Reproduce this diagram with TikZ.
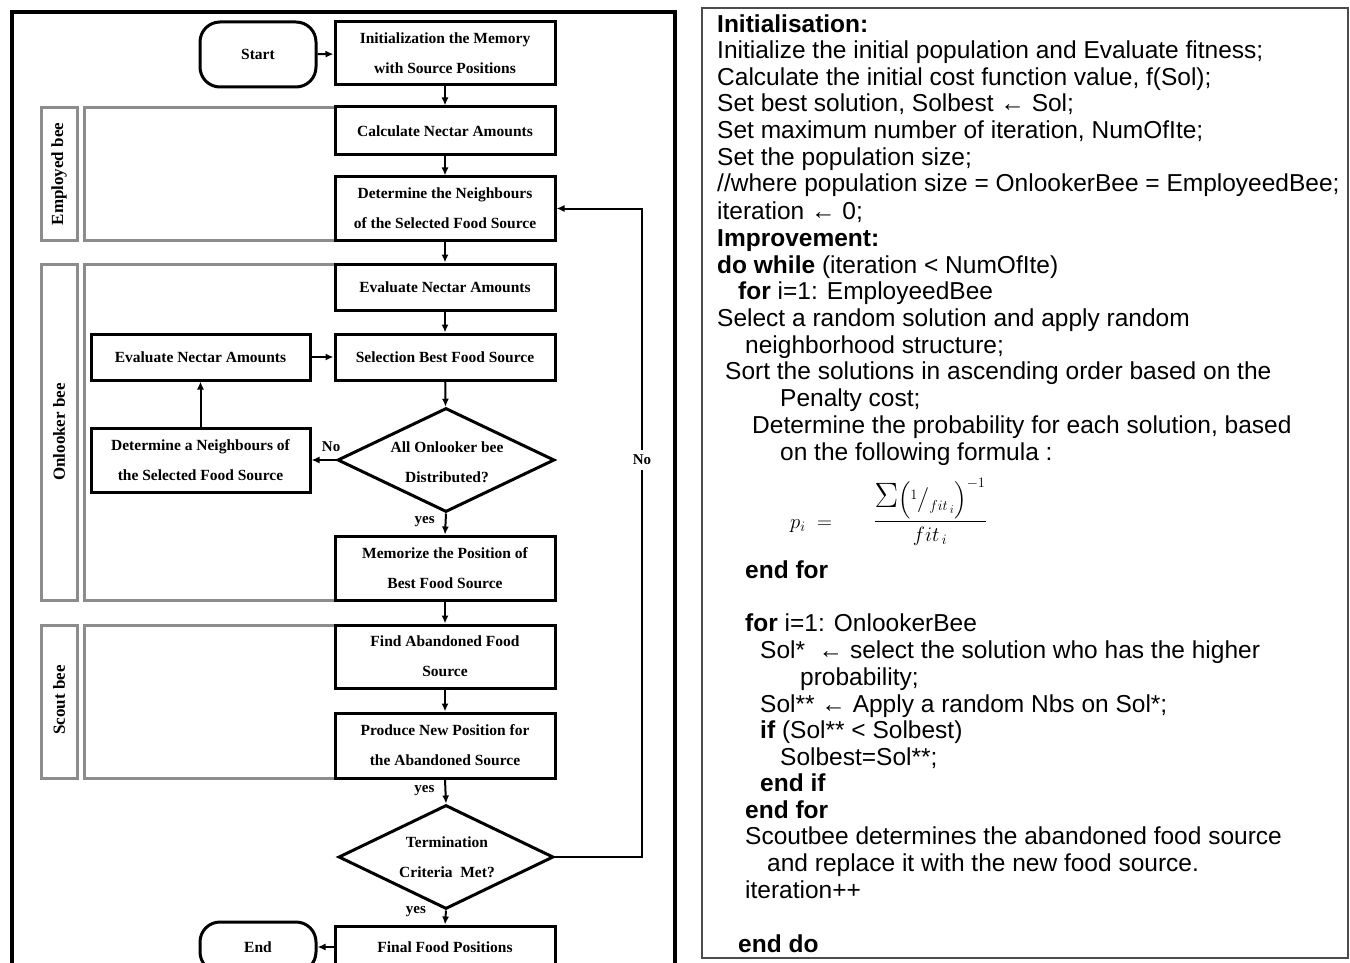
\documentclass[tikz,border=0pt]{standalone}
\usepackage{exscale}
\usepackage{fontspec}
\setmainfont{Liberation Sans}
\newfontfamily\serifb{Liberation Serif}
\usetikzlibrary{shapes.geometric,arrows.meta}
\begin{document}
\begin{tikzpicture}[x=1pt,y=-1pt,
  box/.style={draw,line width=3pt,minimum width=220pt,inner sep=0pt,align=center,fill=white,
    font=\serifb\bfseries\fontsize{15.5}{30}\selectfont},
  term/.style={box,minimum width=116pt,rounded corners=20pt},
  dec/.style={draw,diamond,line width=3pt,inner sep=0pt,fill=white},
  dtext/.style={inner sep=0pt,align=center,font=\serifb\bfseries\fontsize{15.5}{30}\selectfont},
  arr/.style={line width=2pt,-{Latex[length=8pt,width=7pt]}},
  lbl/.style={font=\serifb\bfseries\fontsize{15}{16}\selectfont,inner sep=1pt},
  grp/.style={draw=black!45,line width=3pt},
  glab/.style={rotate=90,font=\serifb\bfseries\fontsize{17}{18}\selectfont},
  code/.style={anchor=base west,inner sep=0pt,font=\fontsize{24.5}{26}\selectfont},
]
\useasboundingbox (0,0) rectangle (1350,963);
\clip (0,0) rectangle (1350,963);
\fill[white] (0,0) rectangle (1350,963);

% ---------- left panel ----------
\draw[line width=3.2pt] (12,975) -- (12,12) -- (675,12) -- (675,975);

% group frames
\draw[grp] (41,108) rectangle (77,240);
\draw[grp] (335,108) -- (84,108) -- (84,240) -- (335,240);
\node[glab] (gemp) at (59,174) {Employed bee};
\draw[grp] (41,264) rectangle (77,600);
\draw[grp] (335,264) -- (84,264) -- (84,600) -- (335,600);
\node[glab] (gonl) at (59,432) {Onlooker bee};
\draw[grp] (41,625) rectangle (77,778);
\draw[grp] (335,625) -- (84,625) -- (84,778) -- (335,778);
\node[glab] (gsco) at (59,700) {Scout bee};

\node[term,minimum height=65pt] (start) at (258,54.5) {Start};
\node[box,minimum height=63pt] (init) at (445,53.5) {Initialization the Memory\\with Source Positions};
\node[box,minimum height=48pt] (calc) at (445,131) {Calculate Nectar Amounts};
\node[box,minimum height=63pt] (det) at (445,208.5) {Determine the Neighbours\\of the Selected Food Source};
\node[box,minimum height=46pt] (eval) at (445,287) {Evaluate Nectar Amounts};
\node[box,minimum height=46pt] (sel) at (445,357) {Selection Best Food Source};
\node[box,minimum width=219pt,minimum height=46pt] (evl) at (200.5,357) {Evaluate Nectar Amounts};
\node[box,minimum width=219pt,minimum height=64pt] (deta) at (200.5,460) {Determine a Neighbours of\\the Selected Food Source};
\node[dec,minimum width=217pt,minimum height=104pt] (dia1) at (446,460) {};
\node[dtext] (dia1t) at (447,462) {All Onlooker bee\\Distributed?};
\node[box,minimum height=64pt] (mem) at (445,568) {Memorize the Position of\\Best Food Source};
\node[box,minimum height=63pt] (find) at (445,656.5) {Find Abandoned Food\\Source};
\node[box,minimum height=65pt] (prod) at (445,745.5) {Produce New Position for\\the Abandoned Source};
\node[dec,minimum width=215pt,minimum height=104pt] (dia2) at (446,857) {};
\node[dtext] (dia2t) at (447,857) {Termination\\Criteria\ \ Met?};
\node[box,minimum height=42pt] (final) at (445,947) {Final Food Positions};
\node[term,minimum height=50pt] (end) at (258,947) {End};

\draw[arr] (start) -- (init);
\draw[arr] (init) -- (calc);
\draw[arr] (calc) -- (det);
\draw[arr] (det) -- (eval);
\draw[arr] (eval) -- (sel);
\draw[arr] (evl) -- (sel);
\draw[arr] (deta) -- (evl);
\draw[arr] (sel) -- (dia1);
\draw[arr] (dia1.west) -- (deta.east) node[lbl,pos=0.2,above=6pt] (no1) {No};
\draw[arr] (dia1.south) -- (mem.north) node[lbl,pos=0.4,left=9pt] (yes1) {yes};
\draw[arr] (mem) -- (find);
\draw[arr] (find) -- (prod);
\draw[arr] (prod.south) -- (dia2.north) node[lbl,pos=0.45,left=9pt] (yes2) {yes};
\draw[arr] (dia2.south) -- (final.north) node[lbl,pos=0.1,left=18pt] (yes3) {yes};
\draw[arr] (final.west |- end.east) -- (end.east);
\coordinate (lp) at (642,460);
\draw[arr] (dia2.east) -| (lp) |- (det.east);
\node[lbl,fill=white,inner sep=5pt] (no2) at (lp) {No};

% ---------- right panel ----------
\draw[line width=2.4pt,black!70] (702,8) rectangle (1348,958);
\node[code] (c1) at (717,33) {\bfseries Initialisation:};
\node[code] (c2) at (717,59) {Initialize the initial population and Evaluate fitness;};
\node[code] (c3) at (717,86) {Calculate the initial cost function value, f(Sol);};
\node[code] (c4) at (717,112) {Set best solution, Solbest ← Sol;};
\node[code] (c5) at (717,139) {Set maximum number of iteration, NumOfIte;};
\node[code] (c6) at (717,165) {Set the population size;};
\node[code] (c7) at (717,192) {//where population size = OnlookerBee = EmployeedBee;};
\node[code] (c8) at (717,219) {iteration ← 0;};
\node[code] (c9) at (717,246) {\bfseries Improvement:};
\node[code] (c10) at (717,273) {\textbf{do while} (iteration < NumOfIte)};
\node[code] (c11) at (738,299) {\textbf{for} i=1: EmployeedBee};
\node[code] (c12) at (717,326) {Select a random solution and apply random};
\node[code] (c13) at (745,353) {neighborhood structure;};
\node[code] (c14) at (725,379) {Sort the solutions in ascending order based on the};
\node[code] (c15) at (780,406) {Penalty cost;};
\node[code] (c16) at (752,433) {Determine the probability for each solution, based};
\node[code] (c17) at (780,460) {on the following formula :};
\node[anchor=base west,inner sep=0pt,font=\fontsize{20}{22}\selectfont] (pl) at (790,528) {$p_i\ =$};
\node[anchor=base,inner sep=0pt,font=\fontsize{20.74}{24}\selectfont] (pf) at (930,527)
  {$\displaystyle\frac{\raisebox{-2pt}{\scalebox{1.7}{$\Sigma$}}\Bigl(\raisebox{6pt}{$\scriptstyle 1$}\big/\raisebox{-5pt}{$\scriptstyle fit_{\,i}$}\Bigr)^{-1}}{fit_{\,i}}$};
\node[code] (c18) at (745,578) {\bfseries end for};
\node[code] (c19) at (745,631) {\textbf{for} i=1: OnlookerBee};
\node[code] (c20) at (760,658) {Sol*\ \ ← select the solution who has the higher};
\node[code] (c21) at (800,685) {probability;};
\node[code] (c22) at (760,712) {Sol** ←\ Apply a random Nbs on Sol*;};
\node[code] (c23) at (760,738) {\textbf{if} (Sol** < Solbest)};
\node[code] (c24) at (780,765) {Solbest=Sol**;};
\node[code] (c25) at (760,791) {\bfseries end if};
\node[code] (c26) at (745,818) {\bfseries end for};
\node[code] (c27) at (745,844) {Scoutbee determines the abandoned food source};
\node[code] (c28) at (767,871) {and replace it with the new food source.};
\node[code] (c29) at (745,898) {iteration++};
\node[code] (c30) at (738,952) {\bfseries end do};
\end{tikzpicture}
\end{document}
